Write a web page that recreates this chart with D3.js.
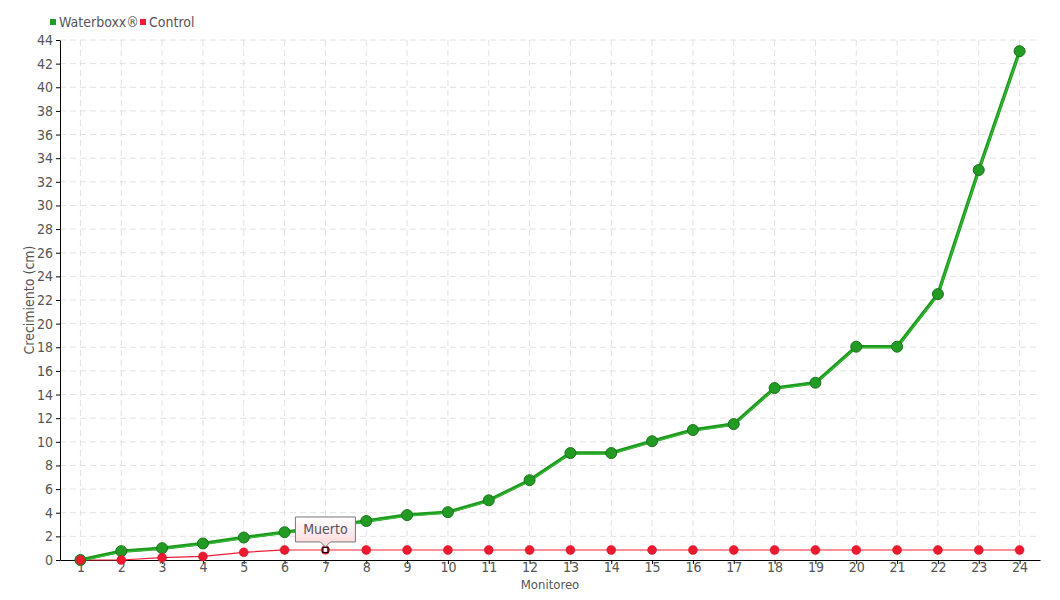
<!DOCTYPE html>
<html>
<head>
<meta charset="utf-8">
<script src="https://cdn.jsdelivr.net/npm/d3@7"></script>
<style>
  body { margin: 0; background: #fff; }
  text { font-family: "Liberation Sans Narrow", "DejaVu Sans Condensed", sans-serif; fill: #555; }
</style>
</head>
<body>
<div id="chart"></div>
<script>
// data
var monitoreo = [1,2,3,4,5,6,7,8,9,10,11,12,13,14,15,16,17,18,19,20,21,22,23,24];
var waterboxx = [0,0.75,1.0,1.4,1.9,2.35,2.8,3.3,3.8,4.05,5.05,6.75,9.05,9.05,10.05,11.0,11.5,14.55,15.0,18.05,18.05,22.5,33.0,43.05];
var control   = [0,0,0.2,0.3,0.65,0.85,0.85,0.85,0.85,0.85,0.85,0.85,0.85,0.85,0.85,0.85,0.85,0.85,0.85,0.85,0.85,0.85,0.85,0.85];
var yTicks = d3.range(0, 45, 2);
var deadIndex = 5;   // control muere despues del monitoreo 6
var noteIndex = 6;   // "Muerto" tooltip on monitoreo 7

var margin = {top: 40, right: 20, bottom: 40, left: 60},
    width = 1060 - margin.left - margin.right,
    height = 600 - margin.top - margin.bottom;

var svg = d3.select("#chart")
  .append("svg")
    .attr("width", 1060)
    .attr("height", 600)
  .append("g")
    .attr("transform", "translate(" + margin.left + "," + margin.top + ")");

var x = d3.scaleLinear().domain([0.5, 24.5]).range([0, width]);
var y = d3.scaleLinear().domain([0, 44]).range([height, 0]);

// grid
svg.append("g").selectAll("line.gy")
  .data(yTicks.slice(1))
  .enter().append("line")
    .attr("x1", 0).attr("x2", width)
    .attr("y1", function(d){ return y(d); })
    .attr("y2", function(d){ return y(d); })
    .attr("stroke", "#e2e2e2")
    .attr("stroke-dasharray", "6,4");
svg.append("g").selectAll("line.gx")
  .data(monitoreo)
  .enter().append("line")
    .attr("y1", 0).attr("y2", height)
    .attr("x1", function(d){ return x(d); })
    .attr("x2", function(d){ return x(d); })
    .attr("stroke", "#e2e2e2")
    .attr("stroke-dasharray", "6,4");

// axes
var xAxis = svg.append("g")
  .attr("transform", "translate(0," + height + ")")
  .call(d3.axisBottom(x).tickValues(monitoreo).tickFormat(d3.format("d")).tickSize(4).tickSizeOuter(0));
var yAxis = svg.append("g")
  .call(d3.axisLeft(y).tickValues(yTicks).tickSize(4).tickSizeOuter(0));
[xAxis, yAxis].forEach(function(a){
  a.select(".domain").attr("stroke", "#000");
  a.selectAll(".tick line").attr("stroke", "#000");
  a.selectAll("text").attr("font-size", 14).style("fill", "#555")
    .style("font-family", "\"Liberation Sans Narrow\", \"DejaVu Sans Condensed\", sans-serif");
});
xAxis.selectAll("text").attr("y", 2).attr("dy", "0.71em");

// axis titles
svg.append("text")
  .attr("x", width / 2)
  .attr("y", height + 29)
  .attr("font-size", 13)
  .style("text-anchor", "middle")
  .text("Monitoreo");
svg.append("text")
  .attr("transform", "rotate(-90)")
  .attr("x", -height / 2)
  .attr("y", -26)
  .attr("font-size", 14)
  .style("text-anchor", "middle")
  .text("Crecimiento (cm)");

var line = d3.line()
  .x(function(d){ return x(d[0]); })
  .y(function(d){ return y(d[1]); });

var ctrlPts = monitoreo.map(function(m, i){ return [m, control[i]]; });
var wbPts = monitoreo.map(function(m, i){ return [m, waterboxx[i]]; });

// control line: alive (red) then dead (light)
svg.append("path")
  .datum(ctrlPts.slice(deadIndex))
  .attr("d", line)
  .attr("fill", "none")
  .attr("stroke", "#ff8f98")
  .attr("stroke-width", 2);
svg.append("path")
  .datum(ctrlPts.slice(0, deadIndex + 1))
  .attr("d", line)
  .attr("fill", "none")
  .attr("stroke", "#ee1c34")
  .attr("stroke-width", 1.2);

// waterboxx line
svg.append("path")
  .datum(wbPts)
  .attr("d", line)
  .attr("fill", "none")
  .attr("stroke", "#1e9a1e")
  .attr("stroke-width", 3.5);
svg.append("path")
  .datum(wbPts)
  .attr("d", line)
  .attr("fill", "none")
  .attr("stroke", "#3cbf3c")
  .attr("stroke-width", 1)
  .attr("transform", "translate(0,1)");

// markers
svg.selectAll("circle.wb")
  .data(wbPts)
  .enter().append("circle")
    .attr("cx", function(d){ return x(d[0]); })
    .attr("cy", function(d){ return y(d[1]); })
    .attr("r", 5.5)
    .attr("fill", "#239a23")
    .attr("stroke", "#17751a")
    .attr("stroke-width", 1);

svg.selectAll("circle.ct")
  .data(ctrlPts.filter(function(d, i){ return i !== noteIndex; }))
  .enter().append("circle")
    .attr("cx", function(d){ return x(d[0]); })
    .attr("cy", function(d){ return y(d[1]); })
    .attr("r", 4.5)
    .attr("fill", "#ec1a2e")
    .attr("stroke", "#d01326")
    .attr("stroke-width", 0.5);

// highlighted point + tooltip
var np = ctrlPts[noteIndex];
var nx = x(np[0]), ny = y(np[1]);
svg.append("circle")
  .attr("cx", nx).attr("cy", ny).attr("r", 4.5)
  .attr("fill", "#ec1a2e");
svg.append("rect")
  .attr("x", nx - 2.5).attr("y", ny - 2.5)
  .attr("width", 5).attr("height", 5)
  .attr("fill", "#fff")
  .attr("stroke", "#000")
  .attr("stroke-width", 1.2);

var defs = svg.append("defs");
var grad = defs.append("linearGradient")
  .attr("id", "tipGrad")
  .attr("x1", 0).attr("y1", 0).attr("x2", 0).attr("y2", 1);
grad.append("stop").attr("offset", "0%").attr("stop-color", "#ffffff");
grad.append("stop").attr("offset", "100%").attr("stop-color", "#fcd6d8");

var bw = 60, bh = 25, by = ny - 33;
svg.append("path")
  .attr("d", "M" + (nx - bw / 2) + "," + by +
             "h" + bw + "v" + bh + "h" + (-(bw / 2 - 5)) +
             "l-5,5l-5,-5" + "h" + (-(bw / 2 - 5)) + "z")
  .attr("fill", "url(#tipGrad)")
  .attr("stroke", "#777")
  .attr("stroke-width", 1);
svg.append("text")
  .attr("x", nx)
  .attr("y", by + 17)
  .attr("font-size", 14)
  .style("text-anchor", "middle")
  .text("Muerto");

// legend
var legend = d3.select("svg").append("g").attr("transform", "translate(50,16)");
var series = [{name: "Waterboxx®", color: "#1ea01e", x: 0}, {name: "Control", color: "#ee1c34", x: 90}];
series.forEach(function(s){
  legend.append("rect")
    .attr("x", s.x).attr("y", 3)
    .attr("width", 6).attr("height", 6)
    .attr("fill", s.color);
  legend.append("text")
    .attr("x", s.x + 9).attr("y", 11)
    .attr("font-size", 14)
    .text(s.name);
});
</script>
</body>
</html>
